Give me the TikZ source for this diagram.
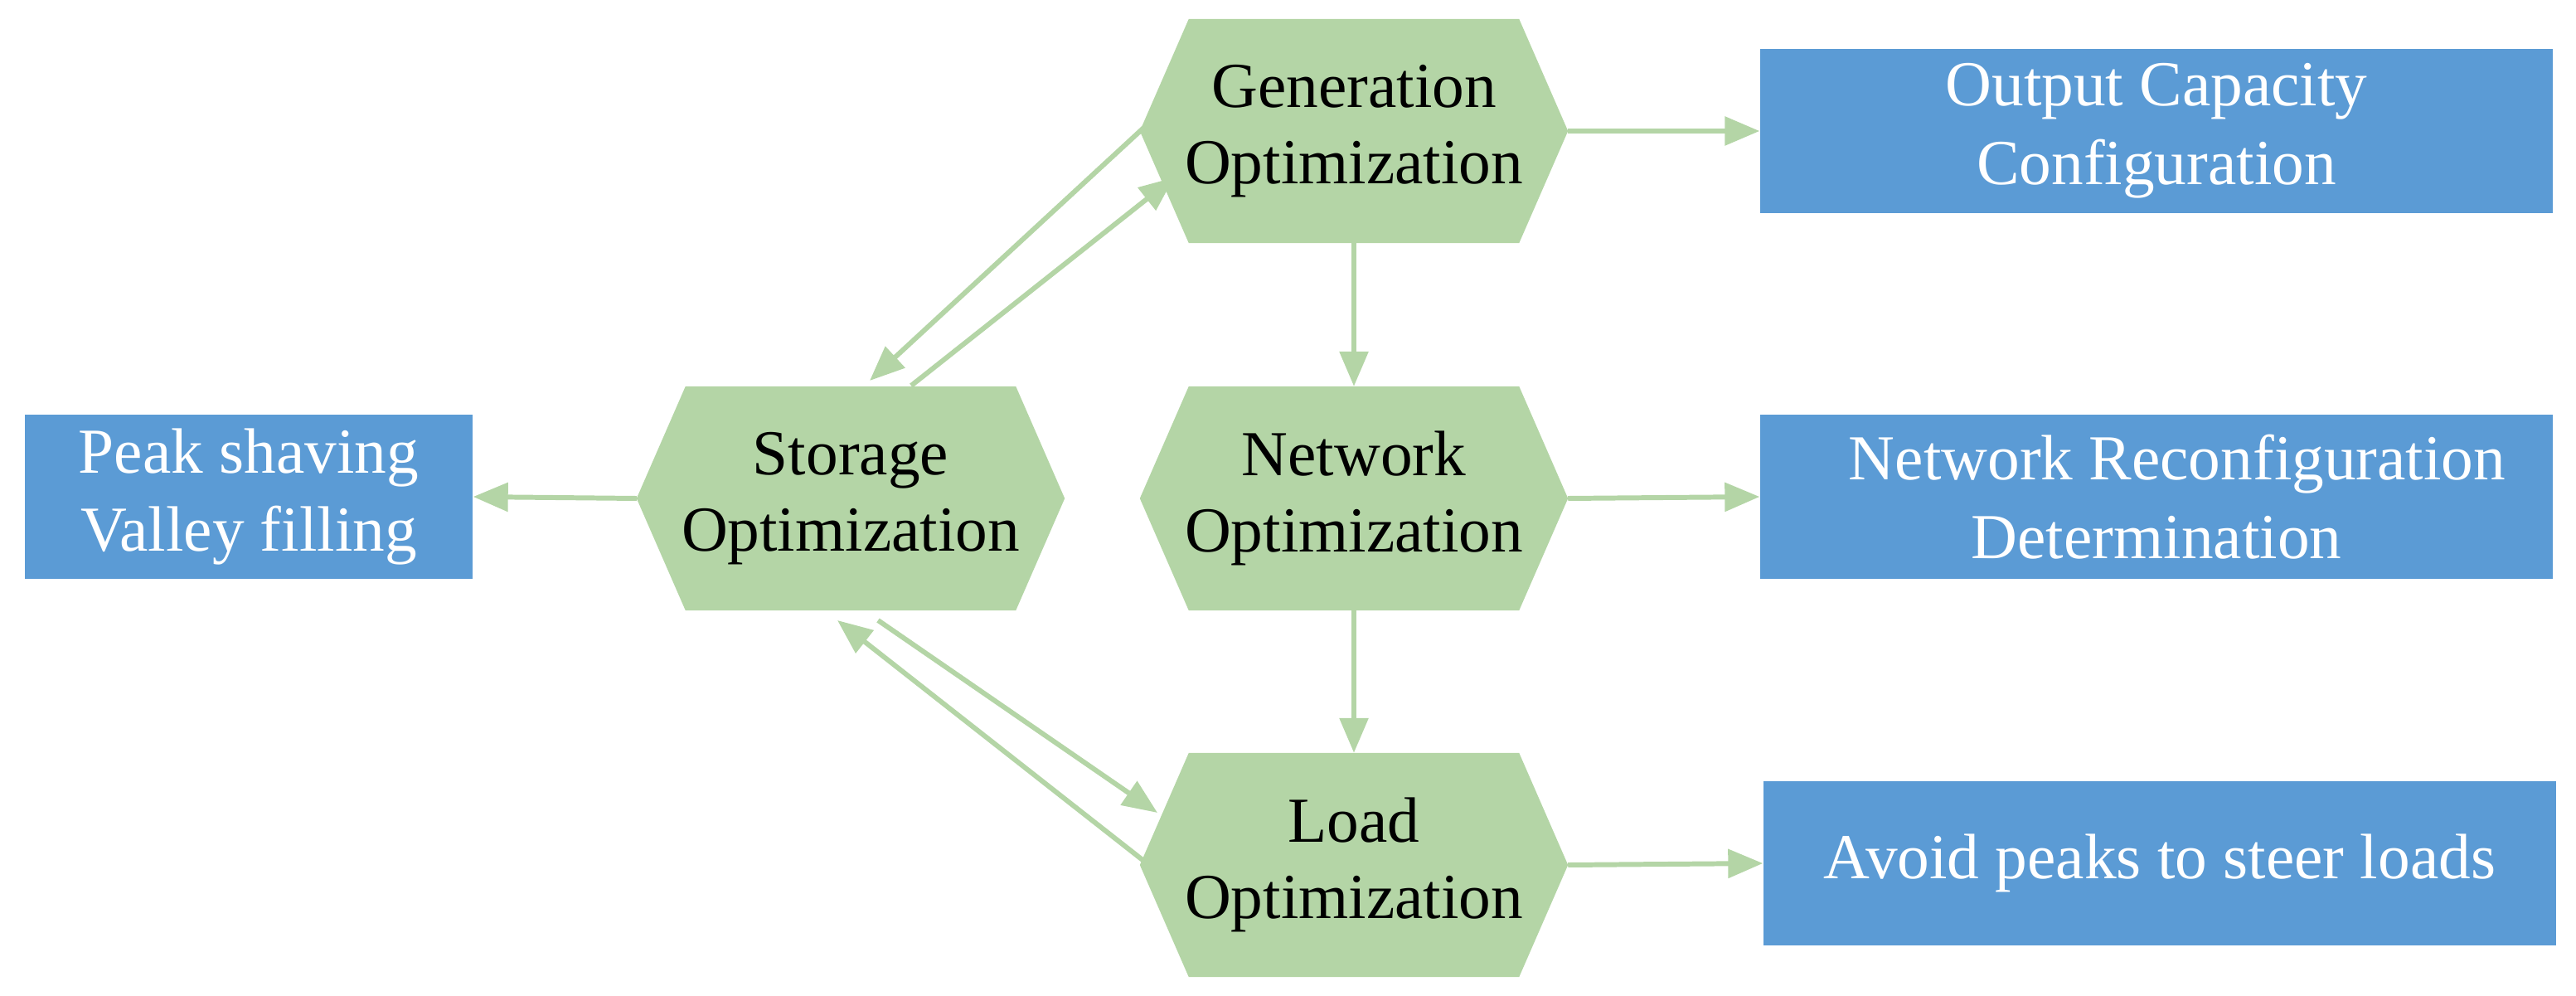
\documentclass[tikz,border=0pt]{standalone}
\usepackage{fontspec}
\setmainfont{Liberation Serif}
\usetikzlibrary{arrows.meta,calc}
\definecolor{hexg}{RGB}{180,213,166}
\definecolor{boxb}{RGB}{91,155,213}
\begin{document}
\begin{tikzpicture}[
  hexn/.style={minimum width=5.15cm,minimum height=2.69cm,inner sep=0,align=center,font=\fontsize{22}{26}\selectfont},
  boxn/.style={fill=boxb,minimum height=1.98cm,inner sep=0,align=center,text=white,font=\fontsize{22}{27}\selectfont},
  arr/.style={draw=hexg,line width=1.7pt,-{Triangle[length=0.42cm,width=0.34cm]}}
]
\useasboundingbox (0,0) rectangle (31.07,12);
\newcommand{\hexfill}[1]{\fill[hexg] (#1.west) -- ($(#1.north west)+(0.59,0)$) -- ($(#1.north east)+(-0.59,0)$) -- (#1.east) -- ($(#1.south east)+(-0.59,0)$) -- ($(#1.south west)+(0.59,0)$) -- cycle;}
\node[hexn] (gen) at (16.33,10.42) {};
\node[hexn] (net) at (16.33,5.99) {};
\node[hexn] (load) at (16.33,1.57) {};
\node[hexn] (sto) at (10.26,5.99) {};
\hexfill{gen}\hexfill{net}\hexfill{load}\hexfill{sto}
\node[hexn] at (gen) {Generation\\Optimization};
\node[hexn] at (net) {Network\\Optimization};
\node[hexn] at (load) {Load\\Optimization};
\node[hexn] at (sto) {Storage\\Optimization};
\node[boxn,minimum width=5.40cm] (peak) at (3.00,6.01) {Peak shaving\\Valley filling};
\node[boxn,minimum width=9.56cm] (out) at (26.01,10.42) {Output Capacity\\Configuration};
\node[boxn,minimum width=9.56cm] (rec) at (26.01,6.01) {\hspace*{0.5cm}Network Reconfiguration\\Determination};
\node[boxn,minimum width=9.56cm] (avo) at (26.05,1.59) {Avoid peaks to steer loads};
\draw[arr] (gen.east) -- (out.west);
\draw[arr] (net.east) -- (rec.west);
\draw[arr] (load.east) -- (avo.west);
\draw[arr] (sto.west) -- (peak.east);
\draw[arr] (gen.south) -- (net.north);
\draw[arr] (net.south) -- (load.north);
\coordinate (g1) at (13.86,10.52);
\coordinate (s1) at (10.49,7.41);
\coordinate (s2) at (10.99,7.35);
\coordinate (g2) at (14.16,9.86);
\coordinate (l1) at (13.82,1.60);
\coordinate (s3) at (10.10,4.52);
\coordinate (s4) at (10.59,4.52);
\coordinate (l2) at (13.96,2.20);
\draw[arr] (g1) -- (s1);
\draw[arr] (s2) -- (g2);
\draw[arr] (l1) -- (s3);
\draw[arr] (s4) -- (l2);
\end{tikzpicture}
\end{document}
